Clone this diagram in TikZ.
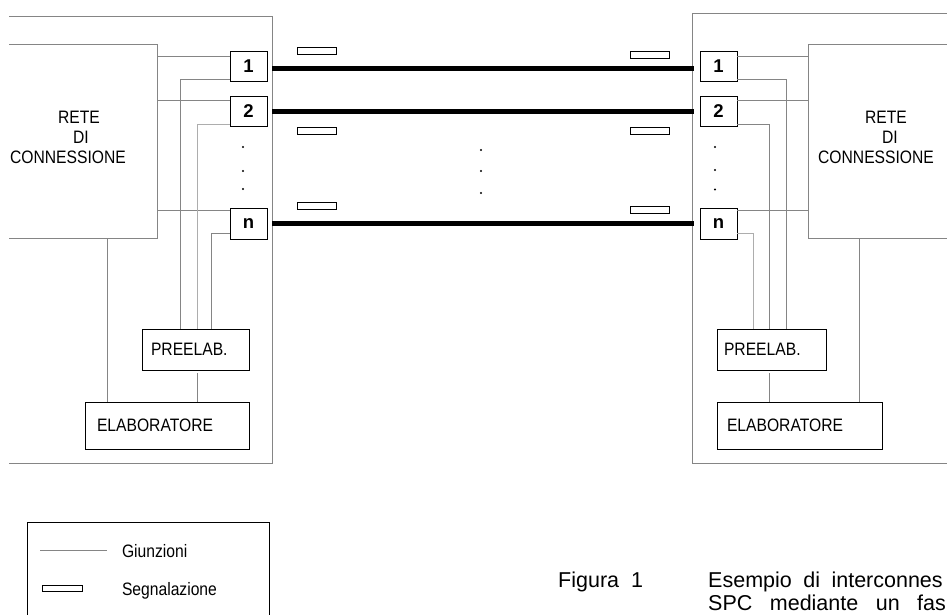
\documentclass[tikz,border=0pt]{standalone}
\usepackage{fontspec}
\newfontfamily\cond[FakeStretch=0.87]{Liberation Sans}
\newfontfamily\arialf{Liberation Sans}
\definecolor{lg}{gray}{0.52}
\definecolor{lgl}{gray}{0.68}
\begin{document}
\begin{tikzpicture}[x=1pt,y=-1pt,
  junc/.style={draw=lg, line width=1pt},
  juncl/.style={draw=lgl, line width=1pt},
  blk/.style={draw=black, line width=1pt, inner sep=0pt, outer sep=0pt},
  ghost/.style={draw=none, inner sep=0pt, outer sep=0pt},
  port/.style={blk, minimum width=37pt, minimum height=30pt, font=\arialf\bfseries\fontsize{18.5}{18.5}\selectfont},
  sig/.style={draw=black, line width=0.9pt, minimum width=39pt, minimum height=7pt, inner sep=0pt, outer sep=0pt},
  trunk/.style={line width=5pt, draw=black},
  lbl/.style={font=\cond\fontsize{18}{20}\selectfont, inner sep=0pt, outer sep=0pt},
  captxt/.style={font=\arialf\fontsize{21.5}{24}\selectfont, inner sep=0pt, anchor=base west},
  dotfill/.style={fill=black}
]
\useasboundingbox (0,0) rectangle (947,614);

% ---------- outer boxes ----------
\node[ghost, minimum width=263pt, minimum height=447pt] (outerL) at (140.5,239.5) {};
\draw[junc] (outerL.north west) -- (outerL.north east) -- (outerL.south east) -- (outerL.south west);
\node[ghost, minimum width=255pt, minimum height=450pt] (outerR) at (819.5,238) {};
\draw[junc] (outerR.north east) -- (outerR.north west) -- (outerR.south west) -- (outerR.south east);

% ---------- switching networks ----------
\node[ghost, minimum width=148pt, minimum height=194pt] (reteL) at (83,141) {};
\draw[junc] (reteL.north west) -- (reteL.north east) -- (reteL.south east) -- (reteL.south west);
\node[lbl, anchor=base] (rL1) at (79,123.5) {RETE};
\node[lbl, anchor=base] (rL2) at (81,143.5) {DI};
\node[lbl, anchor=base] (rL3) at (68,163) {CONNESSIONE};

\node[ghost, minimum width=139pt, minimum height=194pt] (reteR) at (877.5,141) {};
\draw[junc] (reteR.north east) -- (reteR.north west) -- (reteR.south west) -- (reteR.south east);
\node[lbl, anchor=base] (rR1) at (886,123.5) {RETE};
\node[lbl, anchor=base] (rR2) at (890,143.5) {DI};
\node[lbl, anchor=base] (rR3) at (876,163) {CONNESSIONE};

% ---------- ports ----------
\node[port] (pL1) at (248.5,66) {1};
\node[port] (pL2) at (248.5,111) {2};
\node[port, minimum height=31pt] (pLn) at (248.5,223.5) {n};
\node[port] (pR1) at (718.5,66) {1};
\node[port] (pR2) at (718.5,111) {2};
\node[port, minimum height=31pt] (pRn) at (718.5,223.5) {n};

% ---------- processors ----------
\node[blk, minimum width=107pt, minimum height=41pt] (preL) at (195.5,349.5) {};
\node[lbl, anchor=west] (preLt) at ([xshift=9pt]preL.west) {PREELAB.};
\node[blk, minimum width=164pt, minimum height=47pt] (elabL) at (167,425.5) {};
\node[lbl, anchor=west] (elabLt) at ([xshift=12pt]elabL.west) {ELABORATORE};

\node[blk, minimum width=109pt, minimum height=41pt] (preR) at (771.5,349.5) {};
\node[lbl, anchor=west] (preRt) at ([xshift=7pt]preR.west) {PREELAB.};
\node[blk, minimum width=165pt, minimum height=47pt] (elabR) at (799.5,425.5) {};
\node[lbl, anchor=west] (elabRt) at ([xshift=10pt]elabR.west) {ELABORATORE};

% ---------- junctions: network <-> ports (left) ----------
\coordinate (aL1) at ([yshift=10pt]pL1.west);
\coordinate (aL2) at ([yshift=11pt]pL2.west);
\coordinate (aLn) at ([yshift=13.5pt]pLn.west);
\draw[junc] (aL1) -- (aL1 -| reteL.east);
\draw[junc] (aL2) -- (aL2 -| reteL.east);
\draw[junc] (aLn) -- (aLn -| reteL.east);
% ports -> preprocessor (left)
\coordinate (bL1) at ([yshift=-13pt]pL1.west);
\coordinate (bL2) at ([yshift=-13pt]pL2.west);
\coordinate (bLn) at ([yshift=-9.5pt]pLn.west);
\coordinate (cL1) at ([xshift=38pt]preL.north west);
\coordinate (cL2) at ([xshift=55pt]preL.north west);
\coordinate (cLn) at ([xshift=69pt]preL.north west);
\draw[junc] (bL1) -| (cL1);
\draw[juncl] (bL2) -| (cL2);
\draw[junc] (bLn) -| (cLn);
% preprocessor -> processor, network -> processor (left)
\coordinate (dL) at ([xshift=55pt,yshift=-3pt]preL.south west);
\draw[junc] (dL) -- (dL |- elabL.north);
\coordinate (eL) at ([xshift=98pt]reteL.south west);
\draw[junc] (eL) -- (eL |- elabL.north);

% ---------- junctions (right) ----------
\coordinate (aR1) at ([yshift=10pt]pR1.east);
\coordinate (aR2) at ([yshift=11pt]pR2.east);
\coordinate (aRn) at ([yshift=13.5pt]pRn.east);
\draw[junc] (aR1) -- (aR1 -| reteR.west);
\draw[junc] (aR2) -- (aR2 -| reteR.west);
\draw[junc] (aRn) -- (aRn -| reteR.west);
\coordinate (bR1) at ([yshift=-13pt]pR1.east);
\coordinate (bR2) at ([yshift=-13pt]pR2.east);
\coordinate (bRn) at ([yshift=-9.5pt]pRn.east);
\coordinate (cR1) at ([xshift=69pt]preR.north west);
\coordinate (cR2) at ([xshift=52pt]preR.north west);
\coordinate (cRn) at ([xshift=36pt]preR.north west);
\draw[junc] (bR1) -| (cR1);
\draw[junc] (bR2) -| (cR2);
\draw[juncl] (bRn) -| (cRn);
\coordinate (dR) at ([xshift=52pt,yshift=-3pt]preR.south west);
\draw[junc] (dR) -- (dR |- elabR.north);
\coordinate (eR) at ([xshift=51pt]reteR.south west);
\draw[junc] (eR) -- (eR |- elabR.north);

% ---------- trunks ----------
\coordinate (t1) at ([yshift=-2.5pt]pL1.east);
\coordinate (t2) at (pL2.east);
\coordinate (tn) at ([yshift=0.5pt]pLn.east);
\draw[trunk] (t1 -| outerL.east) -- ([xshift=2pt]t1 -| outerR.west);
\draw[trunk] (t2 -| outerL.east) -- ([xshift=2pt]t2 -| outerR.west);
\draw[trunk] (tn -| outerL.east) -- ([xshift=2pt]tn -| outerR.west);

% ---------- signalling ----------
\node[sig] (sL1) at (316.5,51) {};
\node[sig] (sL2) at (316.5,130.5) {};
\node[sig] (sLn) at (316.5,206) {};
\node[sig] (sR1) at (650,54.5) {};
\node[sig] (sR2) at (650,130.5) {};
\node[sig] (sRn) at (650,209.5) {};

% ---------- dots ----------
\foreach \y in {147,171,189} \fill[dotfill] (243,\y) circle (1.1);
\foreach \y in {147,170,189.5} \fill[dotfill] (715,\y) circle (1.1);
\foreach \y in {150,171,193} \fill[dotfill] (481,\y) circle (1.1);

% ---------- legend ----------
\node[ghost, minimum width=242pt, minimum height=94pt] (legbox) at (148,569) {};
\draw[line width=1pt, draw=black] (legbox.south west) -- (legbox.north west) -- (legbox.north east) -- (legbox.south east);
\coordinate (g1) at ([xshift=13pt,yshift=-28pt]legbox.north west);
\coordinate (g2) at ([xshift=80pt,yshift=-28pt]legbox.north west);
\draw[junc] (g1) -- (g2);
\node[lbl, anchor=base west] (legt1) at ([xshift=95pt,yshift=-35pt]legbox.north west) {Giunzioni};
\node[sig, minimum width=40pt, minimum height=6pt] (legs) at (62,588.5) {};
\node[lbl, anchor=base west] (legt2) at (122,595) {Segnalazione};

% ---------- caption ----------
\node[captxt] (fig) at (558,587) {Figura\hspace{12pt}1};
\node[captxt] (c1) at (708,587) {Esempio\hspace{11.5pt}di\hspace{11.5pt}interconnes};
\node[captxt] (c2) at (708,610) {SPC\hspace{17.5pt}mediante\hspace{17.5pt}un\hspace{17.5pt}fas};
\end{tikzpicture}
\end{document}
